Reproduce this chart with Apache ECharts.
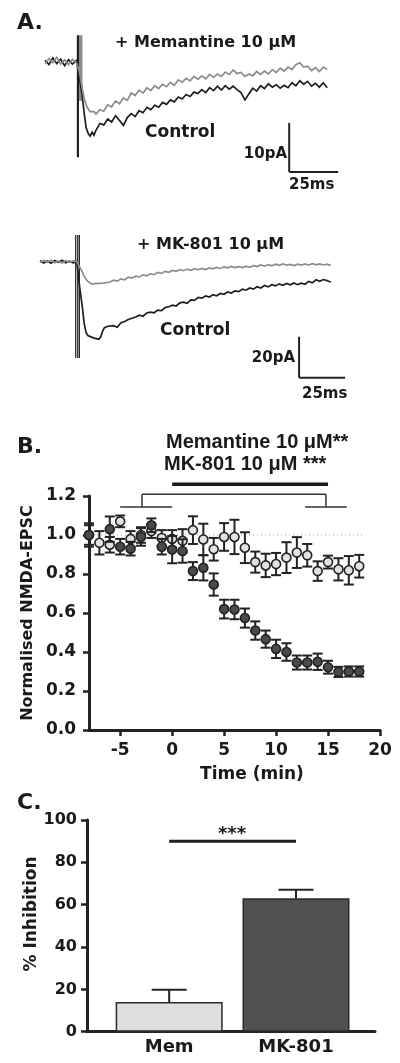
<!DOCTYPE html>
<html><head><meta charset="utf-8">
<script src="https://cdn.jsdelivr.net/npm/echarts@6/dist/echarts.min.js"></script>
<style>html,body{margin:0;padding:0;background:#fff}#c{width:400px;height:1063px}</style>
</head><body><div id="c"></div>
<script>
// ---------- Panel A (top): Memantine traces (ms, pA) ----------
const memTime = [0,2,4,6,8,10,12,14,16,17.5,19,20,21,22,23,24,25,26,28,30,32,34,36,38,40,42,44,46,48,50,52,54,56,58,60,62,64,66,68,70,72,74,76,78,80,82,84,86,88,90,92,94,96,98,100,102,104,106,108,110,112,114,116,118,120,122,124,126,128,130,132,134,136,138,140,142,144];
const memControl = [0.3,-0.6,0.8,-0.4,0.5,-0.8,0.4,-0.5,0.2,-3.0,-7.0,-10.5,-13.5,-14.6,-15.2,-14.4,-15.0,-14.0,-12.6,-12.9,-11.7,-12.3,-11.0,-12.0,-13.0,-11.4,-10.6,-11.2,-10.0,-10.4,-9.3,-9.8,-8.9,-9.3,-8.3,-8.7,-7.8,-8.2,-7.2,-7.6,-6.7,-7.1,-6.2,-6.5,-5.7,-6.3,-5.3,-5.9,-5.0,-5.8,-4.9,-5.6,-5.0,-5.7,-6.3,-7.8,-6.6,-5.4,-6.0,-4.9,-5.5,-4.5,-5.2,-4.7,-5.4,-4.8,-5.3,-4.3,-4.9,-3.9,-4.6,-4.0,-5.0,-4.4,-5.2,-4.3,-5.3];
const memDrug = [-0.4,0.6,-0.2,0.9,-0.5,0.4,-0.6,0.5,-0.2,-2.0,-5.5,-7.5,-8.8,-9.6,-10.2,-10.6,-10.2,-10.7,-9.8,-10.1,-8.8,-9.2,-8.0,-8.6,-7.4,-7.9,-6.4,-6.9,-5.8,-6.4,-5.3,-5.9,-4.9,-5.5,-4.6,-5.1,-4.2,-4.8,-3.7,-4.2,-3.4,-3.9,-3.0,-3.6,-2.9,-3.5,-2.6,-3.2,-2.5,-3.0,-2.1,-2.6,-1.7,-2.4,-2.2,-3.0,-2.5,-2.9,-2.0,-2.6,-1.9,-2.5,-1.6,-2.2,-1.3,-1.9,-1.1,-1.6,-0.6,-0.2,-1.1,-0.9,-1.8,-1.2,-2.0,-1.1,-1.6];
const memArtifactBlack = [[16.8, 5.4, 16.8, -19.5]];
const memArtifactGray = [[18.2, 5.4, 18.2, -8]];
const memScaleBar = [[124.6, -12.5, 124.6, -22.5], [124.6, -22.5, 149.6, -22.5]]; // 10 pA, 25 ms

// ---------- Panel A (bottom): MK-801 traces ----------
const mkTime = [0,2,4,6,8,10,12,14,16,18,20,21.5,23,24,25,26,27,28,29,30,31,32,33,34,35,36,37,38,40,42,44,46,48,50,52,54,56,58,60,62,64,66,68,70,72,74,76,78,80,82,84,86,88,90,92,94,96,98,100,102,104,106,108,110,112,114,116,118,120,122,124,126,128,130,132,134,136,138,140,142,144,146,148,150,152,154,156,158];
const mkControl = [0.5,-0.6,0.3,-0.8,0.6,-0.3,0.7,-0.5,0.2,-0.6,0.0,-12,-22,-30,-34.5,-36.0,-35.2,-36.8,-36.0,-37.4,-36.5,-37.8,-36.6,-34.0,-32.2,-32.8,-31.5,-32.4,-31.2,-32.0,-29.8,-29.2,-28.2,-27.6,-27.0,-26.1,-26.6,-25.0,-24.6,-24.9,-23.6,-23.9,-22.4,-22.0,-21.2,-21.6,-20.1,-19.7,-20.3,-18.6,-18.9,-17.4,-17.8,-16.7,-17.2,-16.1,-16.6,-15.5,-15.9,-14.8,-15.3,-14.2,-14.6,-13.4,-13.9,-12.8,-13.4,-12.2,-12.8,-11.6,-12.3,-11.2,-11.8,-10.8,-11.5,-10.6,-11.3,-10.4,-11.2,-10.5,-11.0,-9.6,-10.3,-8.8,-9.6,-8.7,-9.2,-10.0];
const mkDrug = [-0.4,0.6,-0.2,0.7,-0.5,0.3,-0.6,0.5,-0.3,0.4,0.0,-2.5,-5.0,-7.0,-8.6,-9.6,-10.3,-10.8,-10.2,-10.7,-10.1,-10.6,-10.0,-10.5,-9.7,-10.2,-9.4,-9.9,-9.0,-9.5,-8.4,-8.8,-7.6,-8.0,-7.0,-7.4,-6.4,-6.9,-5.9,-6.3,-5.2,-5.7,-4.7,-5.2,-4.3,-4.7,-3.9,-4.4,-3.6,-4.2,-3.4,-3.9,-3.3,-3.8,-3.0,-3.5,-2.8,-3.3,-2.5,-3.0,-2.3,-2.9,-2.4,-2.9,-2.2,-2.7,-1.9,-2.4,-1.6,-2.2,-1.4,-2.0,-1.2,-1.8,-1.1,-1.7,-1.3,-1.9,-1.2,-1.7,-1.1,-1.6,-1.0,-1.5,-1.1,-1.6,-1.2,-1.8];
const mkArtifact = [[19.4, 13, 19.4, -47], [20.5, 13, 20.5, -47], [21.4, 13, 21.4, -47]];
const mkScaleBar = [[140.8, -36.6, 140.8, -56.6], [140.8, -56.6, 165.8, -56.6]]; // 20 pA, 25 ms

// ---------- Panel B: time course ----------
const timeB = [-8,-7,-6,-5,-4,-3,-2,-1,0,1,2,3,4,5,6,7,8,9,10,11,12,13,14,15,16,17,18];
const memMean = [1.00,0.96,0.95,1.07,0.98,1.00,1.02,0.985,0.98,0.97,1.025,0.977,0.927,0.99,0.99,0.935,0.861,0.844,0.851,0.884,0.91,0.896,0.815,0.861,0.824,0.819,0.84];
const memErr  = [0.05,0.06,0.04,0.03,0.04,0.04,0.035,0.04,0.045,0.06,0.071,0.081,0.058,0.071,0.088,0.079,0.054,0.06,0.057,0.079,0.079,0.058,0.05,0.033,0.057,0.073,0.058];
const mkMean  = [1.00,null,1.03,0.94,0.93,0.99,1.05,0.94,0.925,0.918,0.815,0.832,0.746,0.62,0.618,0.574,0.51,0.466,0.416,0.40,0.346,0.346,0.35,0.322,0.298,0.30,0.30];
const mkErr   = [0.06,null,0.065,0.04,0.035,0.045,0.035,0.04,0.07,0.06,0.046,0.065,0.057,0.048,0.05,0.049,0.047,0.044,0.047,0.045,0.036,0.036,0.042,0.033,0.026,0.026,0.026];
const xTicksB = [-5,0,5,10,15,20];
const refLineB = [[-8, 1], [18.5, 1]];
const drugBar = [[0, 1.26, 15, 1.26]];
const bracketB = [[-2.9,1.209,14.8,1.209],[-2.9,1.209,-2.9,1.144],[14.8,1.209,14.8,1.144],[-5,1.144,0,1.144],[12.8,1.144,16.8,1.144]];

// ---------- Panel C: % inhibition ----------
const barCats = ['Mem', 'MK-801'];
const barVals = [14, 63];
const barErr = [5.8, 4];
const sigLineC = [[0, 90, 1, 90]];

const DJ = '"DejaVu Sans", sans-serif';
const LB = '"Liberation Sans", Arial, sans-serif';
const INK = '#1a1a1a';

const pairs = (t, v) => t.map((x, i) => [x, v[i]]).filter(p => p[1] != null);
const triples = (t, m, e) => t.map((x, i) => [x, m[i], e[i]]).filter(p => p[1] != null);

function segs(xi, yi, data, color, width, z) {
  return {
    type: 'custom', xAxisIndex: xi, yAxisIndex: yi, clip: false, silent: true, z: z || 5,
    data: data, encode: { x: [0, 2], y: [1, 3] },
    renderItem: (p, api) => {
      const a = api.coord([api.value(0), api.value(1)]);
      const b = api.coord([api.value(2), api.value(3)]);
      return { type: 'line', shape: { x1: a[0], y1: a[1], x2: b[0], y2: b[1] },
               style: { stroke: color, lineWidth: width, lineCap: 'butt' } };
    }
  };
}
function errBars(xi, yi, data, color, width, capHalf, onlyUp, z) {
  return {
    type: 'custom', xAxisIndex: xi, yAxisIndex: yi, clip: false, silent: true, z: z,
    data: data, encode: { x: 0, y: 1 },
    renderItem: (p, api) => {
      const x = api.value(0), m = api.value(1), e = api.value(2);
      const top = api.coord([x, m + e]);
      const bot = api.coord([x, onlyUp ? m : m - e]);
      const st = { stroke: color, lineWidth: width };
      const ch = [
        { type: 'line', shape: { x1: top[0], y1: top[1], x2: bot[0], y2: bot[1] }, style: st },
        { type: 'line', shape: { x1: top[0] - capHalf, y1: top[1], x2: top[0] + capHalf, y2: top[1] }, style: st }
      ];
      if (!onlyUp) ch.push({ type: 'line', shape: { x1: bot[0] - capHalf, y1: bot[1], x2: bot[0] + capHalf, y2: bot[1] }, style: st });
      return { type: 'group', children: ch };
    }
  };
}
function trace(xi, yi, t, v, color, width, z) {
  return { type: 'line', xAxisIndex: xi, yAxisIndex: yi, data: pairs(t, v), showSymbol: false, symbol: 'none',
           lineStyle: { color: color, width: width, join: 'miter' }, silent: true, z: z, animation: false };
}
const T = (text, x, y, size, align, family, rot) => ({
  type: 'text', x: x, y: y, rotation: rot || 0, silent: true,
  style: { text: text, fill: INK, font: 'bold ' + size + 'px ' + family,
           textAlign: align, textVerticalAlign: 'middle', align: align, verticalAlign: 'middle' }
});
const hiddenAxis = (min, max, gi) => ({ type: 'value', gridIndex: gi, min: min, max: max, show: false });
const axisLineStyle = { color: '#222', width: 3 };
const tickLineStyle = { color: '#222', width: 2.5 };

const chart = echarts.init(document.getElementById('c'), null, { renderer: 'canvas' });
chart.setOption({
  animation: false,
  backgroundColor: '#fff',
  grid: [
    { left: 45, top: 32.3, width: 297.9, height: 147 },
    { left: 40, top: 233, width: 312.8, height: 151.7 },
    { left: 89, top: 496, width: 291, height: 234 },
    { left: 87, top: 820, width: 288, height: 211.7 }
  ],
  xAxis: [
    hiddenAxis(0, 152, 0),
    hiddenAxis(0, 170, 1),
    { type: 'value', gridIndex: 2, min: -8, max: 20, splitLine: { show: false },
      axisLine: { onZero: false, lineStyle: axisLineStyle },
      axisTick: { show: true, length: 6, lineStyle: tickLineStyle, customValues: xTicksB },
      axisLabel: { customValues: xTicksB, color: INK, fontFamily: 'DejaVu Sans', fontWeight: 'bold', fontSize: 17, margin: 12 } },
    { type: 'value', gridIndex: 3, min: -0.648, max: 1.623, splitLine: { show: false },
      axisLine: { onZero: false, lineStyle: axisLineStyle }, axisTick: { show: false },
      axisLabel: { customValues: [0, 1], formatter: v => barCats[Math.round(v)], color: INK,
                   fontFamily: 'DejaVu Sans', fontWeight: 'bold', fontSize: 18, margin: 7 } }
  ],
  yAxis: [
    hiddenAxis(-24, 6, 0),
    hiddenAxis(-60, 14, 1),
    { type: 'value', gridIndex: 2, min: 0, max: 1.2, interval: 0.2, splitLine: { show: false },
      axisLine: { show: true, onZero: false, lineStyle: axisLineStyle },
      axisTick: { show: true, length: 6, lineStyle: tickLineStyle },
      axisLabel: { formatter: v => v.toFixed(1), color: INK, fontFamily: 'DejaVu Sans', fontWeight: 'bold', fontSize: 17, margin: 13 } },
    { type: 'value', gridIndex: 3, min: 0, max: 100, interval: 20, splitLine: { show: false },
      axisLine: { show: true, onZero: false, lineStyle: axisLineStyle },
      axisTick: { show: true, length: 6, lineStyle: tickLineStyle },
      axisLabel: { color: INK, fontFamily: 'DejaVu Sans', fontWeight: 'bold', fontSize: 16, margin: 10 } }
  ],
  series: [
    // Panel A top
    segs(0, 0, memArtifactGray, '#8c8c8c', 3.5, 2),
    segs(0, 0, memArtifactBlack, '#1e1e1e', 2.2, 3),
    trace(0, 0, memTime, memControl, '#1e1e1e', 1.7, 4),
    trace(0, 0, memTime, memDrug, '#8c8c8c', 1.7, 5),
    segs(0, 0, memScaleBar, '#222', 2, 6),
    // Panel A bottom
    segs(1, 1, mkArtifact, '#1e1e1e', 1.2, 3),
    trace(1, 1, mkTime, mkControl, '#1e1e1e', 1.7, 4),
    trace(1, 1, mkTime, mkDrug, '#8c8c8c', 1.7, 5),
    segs(1, 1, mkScaleBar, '#222', 2, 6),
    // Panel B
    { type: 'line', xAxisIndex: 2, yAxisIndex: 2, data: refLineB, symbol: 'none', silent: true, z: 1,
      lineStyle: { color: '#9a9a9a', width: 1, type: [1, 3] } },
    segs(2, 2, drugBar, '#1a1a1a', 3.5, 6),
    segs(2, 2, bracketB, '#333', 1.5, 6),
    errBars(2, 2, triples(timeB, memMean, memErr), '#222', 2, 5, false, 2),
    { type: 'scatter', xAxisIndex: 2, yAxisIndex: 2, data: pairs(timeB, memMean), symbol: 'circle', symbolSize: 9, z: 3,
      itemStyle: { color: '#e2e2e2', borderColor: '#222', borderWidth: 1.6, opacity: 1 }, silent: true },
    errBars(2, 2, triples(timeB, mkMean, mkErr), '#222', 2, 5, false, 4),
    { type: 'scatter', xAxisIndex: 2, yAxisIndex: 2, data: pairs(timeB, mkMean), symbol: 'circle', symbolSize: 9, z: 5,
      itemStyle: { color: '#4a4a4a', borderColor: '#222', borderWidth: 1.6, opacity: 1 }, silent: true },
    // Panel C
    { type: 'bar', xAxisIndex: 3, yAxisIndex: 3, barWidth: 107, z: 2, silent: true,
      data: barVals.map((v, i) => ({ value: [i, v], itemStyle: {
        color: i === 0 ? '#dedede' : '#505050', borderColor: '#2a2a2a', borderWidth: 1.5 } })) },
    errBars(3, 3, barVals.map((v, i) => [i, v, barErr[i]]), '#222', 2, 17.5, true, 1),
    segs(3, 3, sigLineC, '#1e1e1e', 3, 6)
  ],
  graphic: [
    T('A.', 17, 23, 22, 'left', DJ),
    T('+ Memantine 10 \u03bcM', 115, 43, 16, 'left', DJ),
    T('Control', 145, 133, 17, 'left', DJ),
    T('10pA', 287, 154, 15, 'right', DJ),
    T('25ms', 289, 185, 15, 'left', DJ),
    T('+ MK-801 10 \u03bcM', 137, 245, 16, 'left', DJ),
    T('Control', 160, 331, 17, 'left', DJ),
    T('20pA', 295, 358, 15, 'right', DJ),
    T('25ms', 302, 394, 15, 'left', DJ),
    T('B.', 17, 447, 22, 'left', DJ),
    T('Memantine 10 \u03bcM**', 166, 442, 20, 'left', LB),
    T('MK-801 10 \u03bcM ***', 164, 464, 20, 'left', LB),
    T('Normalised NMDA-EPSC', 28, 613, 16, 'center', DJ, Math.PI / 2),
    T('Time (min)', 252, 775, 17, 'center', DJ),
    T('C.', 17, 803, 22, 'left', DJ),
    T('% Inhibition', 32, 914, 17, 'center', DJ, Math.PI / 2),
    T('***', 232, 834, 18, 'center', DJ)
  ]
});
</script>
</body></html>
